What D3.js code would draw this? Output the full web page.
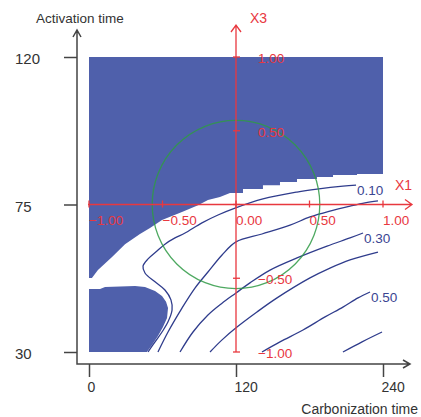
<!DOCTYPE html>
<html>
<head>
<meta charset="utf-8">
<script src="https://cdn.jsdelivr.net/npm/d3@7"></script>
<style>
  body { margin: 0; background: #fff; }
  text { font-family: "Liberation Sans", Arial, sans-serif; }
</style>
</head>
<body>
<svg id="chart" width="421" height="417"></svg>
<script>
// response surface contour plot, carbonization time vs activation time

const carbTicks = [0, 120, 240]
const actTicks = [30, 75, 120]
const codedTicks = [-1, -0.5, 0, 0.5, 1]
const designRadius = 0.57   // coded radius of the green circle

// lower edge of the upper blue zone (carbonization, activation)
const blueTopEdge = [
  [240, 84.9], [218.8, 84.3], [199.2, 84.0], [186.1, 83.4], [169.8, 82.8],
  [155.9, 81.9], [142.0, 80.9], [125.7, 79.7], [115.1, 78.5],
  [106.9, 77.3], [97.1, 76.4], [89.0, 74.8], [75.9, 72.7], [59.6, 70.3],
  [49.8, 67.8], [41.6, 66.0], [29.4, 62.9], [18.8, 59.0], [7.3, 55.0],
  [2.4, 52.6], [0, 52.6]
]
// lower left blue blob
const blueBlob = [
  [0, 49.2], [9.0, 49.2], [13.1, 49.8], [37.6, 50.1], [45.7, 49.8],
  [53.9, 48.6], [59.6, 47.1], [62.9, 45.3], [64.5, 43.4], [63.7, 40.4],
  [60.4, 37.6], [56.3, 34.9], [51.4, 32.1], [47.3, 30], [0, 30]
]

const contour010 = [
  [48.2, 30], [53.9, 33.1], [59.6, 36.1], [64.5, 39.2], [67.8, 42.8],
  [66.9, 45.9], [62.0, 48.9], [53.9, 51.4], [45.7, 54.1], [44.1, 56.2],
  [48.2, 58.4], [55.5, 60.8], [62.0, 62.9], [70.2, 64.8], [78.4, 66.3],
  [92.2, 69.4], [105.3, 71.8], [119.2, 73.9], [142.0, 76.7], [169.8, 78.8],
  [186.1, 79.7], [207.3, 80.6], [218.0, 80.9]
]
const contour020 = [
  [56.3, 30], [64.5, 36.1], [75.9, 43.4], [86.5, 49.5], [97.1, 54.4],
  [108.6, 59.6], [120, 63.6], [141.2, 66.0], [164.1, 68.7], [180.4, 71.2],
  [196.7, 73.0], [213.1, 74.5], [225.3, 75.5], [235.9, 76.1]
]
const contour030 = [
  [74.3, 30], [84.9, 36.1], [97.1, 41.3], [108.6, 44.9], [120, 48.0],
  [131.4, 51.1], [147.8, 55.0], [169.8, 58.7], [194.3, 62.3], [213.1, 64.8],
  [223.7, 66.3]
]
const contour040 = [
  [98.8, 30], [108.6, 33.7], [120.8, 37.6], [137.1, 42.2], [153.5, 46.5],
  [180.4, 52.6], [196.7, 55.6], [213.1, 58.1], [235.9, 60.5]
]
const contour050 = [
  [141.2, 30], [155.9, 33.1], [174.7, 36.7], [192.7, 40.7], [207.3, 43.7],
  [219.6, 46.5], [229.4, 48.3]
]
const contour060 = [[207.3, 30], [222.9, 33.1], [239.2, 36.1]]

const contours = [
  {level: '0.10', pts: contour010, label: true},
  {level: '0.20', pts: contour020, label: false},
  {level: '0.30', pts: contour030, label: true},
  {level: '0.40', pts: contour040, label: false},
  {level: '0.50', pts: contour050, label: true},
  {level: '0.60', pts: contour060, label: false}
]

const svg = d3.select('#chart')

const x = d3.scaleLinear().domain([0, 240]).range([89, 383])
const y = d3.scaleLinear().domain([30, 120]).range([352, 57])
const cx = d3.scaleLinear().domain([-1, 1]).range([89, 383])   // coded X1
const cy = d3.scaleLinear().domain([-1, 1]).range([352, 57])   // coded X3

const blue = '#4f60ab', navy = '#2f3c8c', red = '#e8383f', grey = '#444'

// blue zones
const stepPart = blueTopEdge.filter(d => d[0] >= 115).slice().reverse()
const leftPart = blueTopEdge.filter(d => d[0] <= 115.1)
svg.append('path')
  .attr('fill', blue)
  .attr('d', d3.area().curve(d3.curveStepAfter)
    .x(d => x(d[0])).y0(y(120)).y1(d => y(d[1]))(stepPart))
svg.append('path')
  .attr('fill', blue)
  .attr('d', d3.line().x(d => x(d[0])).y(d => y(d[1]))([[0, 120], [115.1, 120]].concat(leftPart)) + 'Z')
svg.append('path')
  .attr('fill', blue)
  .attr('d', d3.line().x(d => x(d[0])).y(d => y(d[1]))(blueBlob) + 'Z')

// contour lines
const line = d3.line().x(d => x(d[0])).y(d => y(d[1])).curve(d3.curveCatmullRom.alpha(0.5))
svg.append('g').selectAll('path')
  .data(contours)
  .enter().append('path')
  .attr('d', d => line(d.pts))
  .attr('fill', 'none')
  .attr('stroke', navy)
  .attr('stroke-width', 1.3)

svg.append('g').selectAll('text')
  .data(contours.filter(d => d.label))
  .enter().append('text')
  .attr('x', d => x(d.pts[d.pts.length - 1][0]) + 1)
  .attr('y', d => y(d.pts[d.pts.length - 1][1]) + 10)
  .attr('font-size', 13.5)
  .attr('fill', '#3a4592')
  .text(d => d.level)

// design circle
svg.append('ellipse')
  .attr('cx', cx(0)).attr('cy', cy(0))
  .attr('rx', cx(designRadius) - cx(0))
  .attr('ry', cy(0) - cy(designRadius))
  .attr('fill', 'none')
  .attr('stroke', '#2f9a45')
  .attr('stroke-opacity', 0.85)
  .attr('stroke-width', 1.3)

// coded axes (red)
const red1 = svg.append('g').attr('stroke', red).attr('stroke-width', 1.3).attr('fill', 'none')
red1.append('path').attr('d', `M${cx(-1) - 1},${cy(0)}H412M405,${cy(0) - 5}L412,${cy(0)}L405,${cy(0) + 5}`)
red1.append('path').attr('d', `M${cx(0)},${cy(-1)}V25M${cx(0) - 5},32L${cx(0)},25L${cx(0) + 5},32`)
red1.selectAll('.t1').data(codedTicks).enter().append('line')
  .attr('x1', d => cx(d)).attr('x2', d => cx(d))
  .attr('y1', cy(0) - 4).attr('y2', cy(0) + 3)
red1.selectAll('.t3').data(codedTicks).enter().append('line')
  .attr('y1', d => cy(d)).attr('y2', d => cy(d))
  .attr('x1', cx(0) - 3).attr('x2', cx(0) + 4)

const fmt = d3.format('.2f')
svg.append('g').selectAll('text')
  .data(codedTicks).enter().append('text')
  .attr('x', d => cx(d)).attr('y', cy(0) + 20)
  .attr('font-size', 13.5).attr('fill', red)
  .text(d => fmt(d))
svg.append('g').selectAll('text')
  .data(codedTicks.filter(d => d !== 0)).enter().append('text')
  .attr('x', cx(0) + 22).attr('y', d => cy(d) + 6)
  .attr('font-size', 13.5).attr('fill', red)
  .text(d => fmt(d))
svg.append('text').attr('x', 395).attr('y', 190).attr('font-size', 14).attr('fill', red).text('X1')
svg.append('text').attr('x', 250).attr('y', 23).attr('font-size', 14).attr('fill', red).text('X3')

// real axes
const ax0 = x(0) - 12, ay0 = y(30) + 12

const yAxis = svg.append('g')
  .attr('transform', `translate(${ax0},0)`)
  .call(d3.axisLeft(y).tickValues(actTicks).tickSize(13).tickFormat(d3.format('d')))
yAxis.attr('font-family', null).attr('font-size', null)
yAxis.select('.domain').remove()
yAxis.selectAll('line').attr('stroke', grey).attr('stroke-width', 1.5)
yAxis.selectAll('text')
  .attr('text-anchor', 'start').attr('x', 15 - ax0).attr('dy', '0.45em')
  .attr('font-size', 15).attr('fill', '#333')

const xAxis = svg.append('g')
  .attr('transform', `translate(0,${ay0})`)
  .call(d3.axisBottom(x).tickValues(carbTicks).tickSize(13).tickFormat(d3.format('d')))
xAxis.attr('font-family', null).attr('font-size', null)
xAxis.select('.domain').remove()
xAxis.selectAll('line').attr('stroke', grey).attr('stroke-width', 1.5)
xAxis.selectAll('text')
  .attr('text-anchor', 'start').attr('dx', -2).attr('y', 18)
  .attr('font-size', 14).attr('fill', '#333')

svg.append('path')
  .attr('fill', 'none').attr('stroke', grey).attr('stroke-width', 1.5)
  .attr('d', `M${ax0},30V${ay0}H410M403,${ay0 - 4}L410,${ay0}L403,${ay0 + 4}M${ax0 - 4},37L${ax0},30L${ax0 + 4},37`)

svg.append('text').attr('x', 36).attr('y', 23).attr('font-size', 13.5).attr('fill', '#333').text('Activation time')
svg.append('text').attr('x', 418).attr('y', 414).attr('text-anchor', 'end').attr('font-size', 14).attr('fill', '#333').text('Carbonization time')
</script>
</body>
</html>
